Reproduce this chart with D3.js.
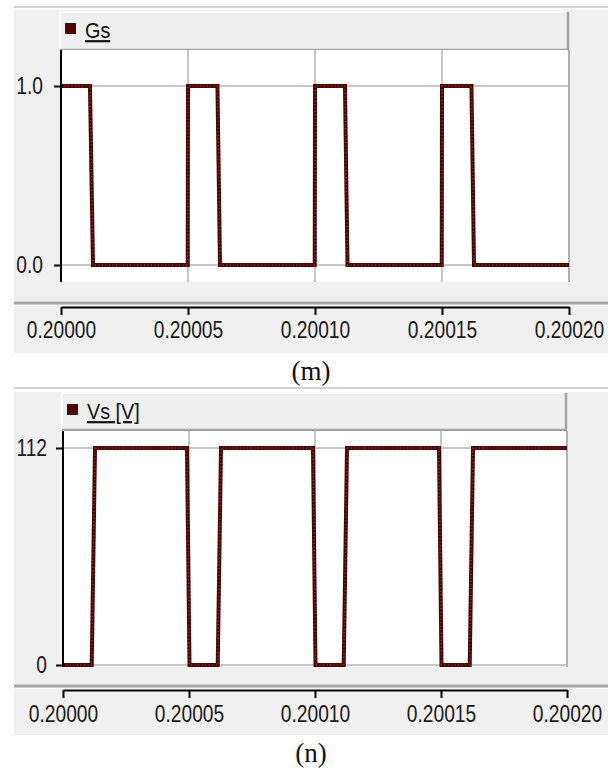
<!DOCTYPE html>
<html>
<head>
<meta charset="utf-8">
<script src="https://cdn.jsdelivr.net/npm/d3@7"></script>
<style>
  body { margin: 0; background: #fff; }
  svg { display: block; }
</style>
</head>
<body>
<svg id="chart" width="612" height="771"></svg>
<script>

// shared time axis (s)
var xTicks = [0.20000, 0.20005, 0.20010, 0.20015, 0.20020];
var xTickLabels = ["0.20000", "0.20005", "0.20010", "0.20015", "0.20020"];

// (m) gate signal Gs
var gsTime = [0.2000000, 0.2000114, 0.2000126, 0.2000499, 0.2000500, 0.2000616, 0.2000626,
  0.2000999, 0.2001000, 0.2001118, 0.2001128, 0.2001499, 0.2001500, 0.2001616, 0.2001626, 0.2002000];
var gsValue = [1, 1, 0, 0, 1, 1, 0, 0, 1, 1, 0, 0, 1, 1, 0, 0];
var gsTicks = [0, 1];
var gsTickLabels = ["0.0", "1.0"];

// (n) switch voltage Vs
var vsTime = [0.2000000, 0.2000114, 0.2000127, 0.2000492, 0.2000502, 0.2000614, 0.2000627,
  0.2000992, 0.2001002, 0.2001114, 0.2001127, 0.2001492, 0.2001502, 0.2001614, 0.2001627, 0.2002000];
var vsValue = [0, 0, 112, 112, 0, 0, 112, 112, 0, 0, 112, 112, 0, 0, 112, 112];
var vsTicks = [0, 112];
var vsTickLabels = ["0", "112"];

var svg = d3.select("#chart");
var tickFont = "'Liberation Sans', Arial, sans-serif";
var lineColor = "#4a0505";
var squeeze = 0.8; // tick labels in the original use a narrow face

function drawPanel(p) {
  var g = svg.append("g");

  // thin rule above panel
  g.append("line")
    .attr("x1", 14).attr("x2", 608)
    .attr("y1", p.rule).attr("y2", p.rule)
    .attr("stroke", "#c4c4c4").attr("stroke-width", 1.5);

  // grey panel background
  g.append("rect")
    .attr("x", 14).attr("y", p.bgTop)
    .attr("width", 594).attr("height", p.bgBottom - p.bgTop)
    .attr("fill", "#f0f0f0");

  // legend bar (raised look)
  g.append("rect")
    .attr("x", p.legend[0]).attr("y", p.legend[2])
    .attr("width", p.legend[1] - p.legend[0]).attr("height", p.legend[3] - p.legend[2])
    .attr("fill", "#efefef");
  g.append("path")
    .attr("d", "M" + p.legend[0] + "," + p.legend[3] + "V" + p.legend[2] + "H" + p.legend[1])
    .attr("fill", "none").attr("stroke", "#ffffff").attr("stroke-width", 1.5);
  g.append("path")
    .attr("d", "M" + p.legend[0] + "," + p.legend[3] + "H" + p.legend[1] + "V" + p.legend[2])
    .attr("fill", "none").attr("stroke", "#a3a3a3").attr("stroke-width", 2.5);
  g.append("rect")
    .attr("x", p.legend[0] + 5).attr("y", p.legend[2] + 11)
    .attr("width", 11).attr("height", 11)
    .attr("fill", lineColor);
  g.append("text")
    .attr("transform", "translate(" + (p.legend[0] + 25) + "," + (p.legend[2] + 26) + ") scale(0.9,1)")
    .style("font-family", tickFont)
    .style("font-size", "22px")
    .style("text-decoration", "underline")
    .attr("fill", "#111")
    .text(p.name);

  var x = d3.scaleLinear().domain([xTicks[0], xTicks[xTicks.length - 1]]).range([p.plot[0], p.plot[1]]);
  var y = d3.scaleLinear().domain([p.ticks[0], p.ticks[1]]).range(p.yRange);

  // plot area
  g.append("rect")
    .attr("x", p.plot[0]).attr("y", p.plot[2])
    .attr("width", p.plot[1] - p.plot[0]).attr("height", p.plot[3] - p.plot[2])
    .attr("fill", "#fff");
  g.append("line")
    .attr("x1", p.plot[1]).attr("x2", p.plot[1])
    .attr("y1", p.plot[2]).attr("y2", p.plot[3])
    .attr("stroke", "#a8a8a8").attr("stroke-width", 2);

  // grid
  g.selectAll(".vgrid").data(xTicks.slice(1)).enter().append("line")
    .attr("x1", function (d) { return x(d); }).attr("x2", function (d) { return x(d); })
    .attr("y1", p.plot[2]).attr("y2", p.plot[3])
    .attr("stroke", "#b4b4b4").attr("stroke-width", 1.5);
  g.selectAll(".hgrid").data(p.ticks).enter().append("line")
    .attr("x1", p.plot[0]).attr("x2", p.plot[1])
    .attr("y1", function (d) { return y(d); }).attr("y2", function (d) { return y(d); })
    .attr("stroke", "#b4b4b4").attr("stroke-width", 1.5);

  // waveform
  var pts = p.time.map(function (t, i) { return [t, p.value[i]]; });
  var line = d3.line().x(function (d) { return x(d[0]); }).y(function (d) { return y(d[1]); });
  g.append("path").datum(pts)
    .attr("d", line)
    .attr("fill", "none").attr("stroke", lineColor).attr("stroke-width", 4)
    .attr("stroke-linejoin", "miter");
  g.append("path").datum(pts)
    .attr("d", line)
    .attr("fill", "none").attr("stroke", "#9a5656").attr("stroke-width", 1.5)
    .attr("stroke-dasharray", "1 2.5").attr("opacity", 0.7);

  // y axis
  g.append("line")
    .attr("x1", p.plot[0]).attr("x2", p.plot[0])
    .attr("y1", p.plot[2]).attr("y2", p.plot[3])
    .attr("stroke", "#000").attr("stroke-width", 2);
  var yAxis = g.append("g")
    .attr("transform", "translate(" + p.plot[0] + ",0)")
    .call(d3.axisLeft(y).tickValues(p.ticks)
      .tickFormat(function (d, i) { return p.tickLabels[i]; })
      .tickSize(7).tickPadding(p.yPad));
  yAxis.select(".domain").remove();
  yAxis.selectAll(".tick line").attr("stroke", "#000").attr("stroke-width", 2);
  yAxis.selectAll("text")
    .style("font-family", tickFont).style("font-size", "24px").attr("fill", "#1a1a1a")
    .attr("x", -(7 + p.yPad) / squeeze)
    .attr("transform", "scale(" + squeeze + ",1)");

  // separator above the x axis
  g.append("line")
    .attr("x1", 14).attr("x2", 608)
    .attr("y1", p.sep).attr("y2", p.sep)
    .attr("stroke", "#a8a8a8").attr("stroke-width", 3);
  g.append("line")
    .attr("x1", 14).attr("x2", 608)
    .attr("y1", p.sep + 2.5).attr("y2", p.sep + 2.5)
    .attr("stroke", "#fafafa").attr("stroke-width", 1);

  // x axis
  var xAxis = g.append("g")
    .attr("transform", "translate(0," + p.axisY + ")")
    .call(d3.axisBottom(x).tickValues(xTicks)
      .tickFormat(function (d, i) { return xTickLabels[i]; })
      .tickSize(8).tickSizeOuter(0).tickPadding(p.xPad));
  xAxis.select(".domain").attr("stroke", "#000").attr("stroke-width", 2);
  xAxis.selectAll(".tick line").attr("stroke", "#000").attr("stroke-width", 2);
  xAxis.selectAll("text")
    .style("font-family", tickFont).style("font-size", "24px").attr("fill", "#1a1a1a")
    .attr("transform", "scale(" + squeeze + ",1)");

  // caption
  g.append("text")
    .attr("x", 311).attr("y", p.captionY)
    .attr("text-anchor", "middle")
    .style("font-family", "'Liberation Serif', 'Times New Roman', serif")
    .style("font-size", "27px")
    .attr("fill", "#111")
    .text(p.caption);
}

drawPanel({
  rule: 7, bgTop: 10, bgBottom: 353,
  legend: [60, 568, 12, 50],
  plot: [61, 569, 50, 282],
  yRange: [265, 86], yPad: 11,
  sep: 303, axisY: 307, xPad: 6,
  name: "Gs", time: gsTime, value: gsValue,
  ticks: gsTicks, tickLabels: gsTickLabels,
  caption: "(m)", captionY: 380
});

drawPanel({
  rule: 388, bgTop: 392, bgBottom: 735,
  legend: [62, 566, 393, 430],
  plot: [63, 567, 431, 667],
  yRange: [665, 448], yPad: 9,
  sep: 686, axisY: 690, xPad: 7,
  name: "Vs [V]", time: vsTime, value: vsValue,
  ticks: vsTicks, tickLabels: vsTickLabels,
  caption: "(n)", captionY: 762
});

</script>
</body>
</html>
